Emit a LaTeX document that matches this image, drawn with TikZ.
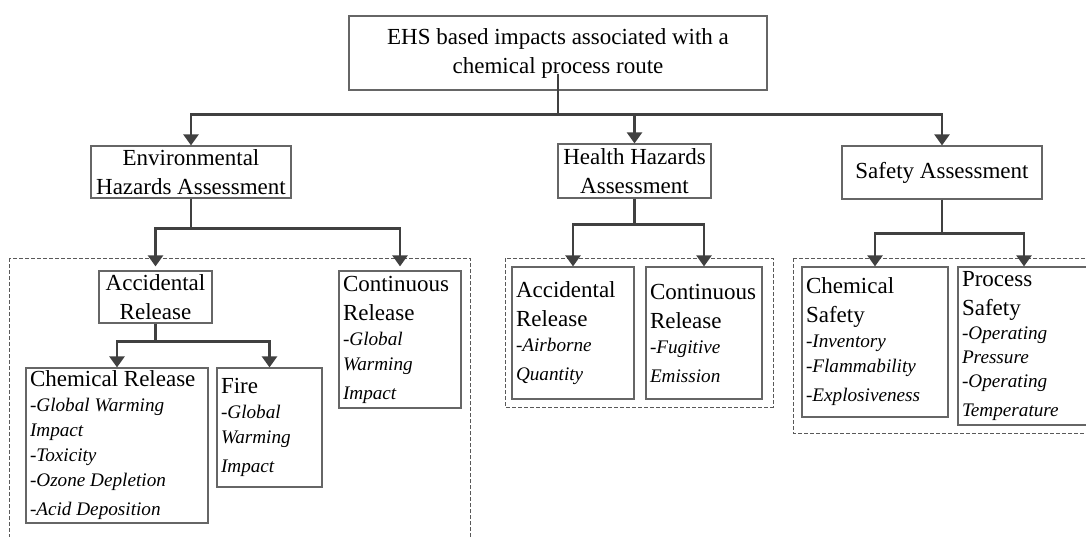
\documentclass[tikz,border=0pt]{standalone}
\usepackage{fontspec}
\setmainfont{Liberation Serif}
\usetikzlibrary{arrows.meta, positioning, calc}
\definecolor{linkgray}{HTML}{404040}
\definecolor{framegray}{HTML}{666666}
\newcommand{\boxtxt}{\fontsize{11.5}{14.5}\selectfont}
\newcommand{\subtxt}{\fontsize{9.6}{12.5}\selectfont\itshape}

\begin{document}
\begin{tikzpicture}[x=0.5pt, y=-0.5pt,
  head/.style={rectangle, draw=framegray, line width=0.6pt, inner xsep=2pt, inner ysep=0pt, align=center, font=\boxtxt},
  leaf/.style={head, align=flush left},
  group/.style={draw=black!65, line width=0.5pt, dash pattern=on 2pt off 1pt},
  arrow/.style={-{Triangle[length=5.5pt, width=7.5pt]}, draw=linkgray, line width=1.2pt}
]
  \useasboundingbox (0,0) rectangle (1086,536);

  % Groups
  \draw[group] (9,258) rectangle (470,560);
  \draw[group] (505,258) rectangle (773,407);
  \draw[group] (793,258) rectangle (1100,433);

  % Root and branches
  \node[head, minimum width=209pt, minimum height=37pt] (ehs) at (558,53) {EHS based impacts associated with a\\chemical process route};
  \node[head, minimum width=100pt, minimum height=26pt] (env) at (191,172) {Environmental\\Hazards Assessment};
  \node[head, minimum width=76.5pt, minimum height=27pt] (health) at (634.5,171) {Health Hazards\\Assessment};
  \node[head, minimum width=100pt, minimum height=26.5pt] (safety) at (942,172.5) {Safety Assessment};

  % Environmental
  \node[head, minimum width=56.5pt, minimum height=26pt] (envacc) at (155.5,297) {Accidental\\Release};
  \node[leaf, text width=57pt, minimum height=68.5pt] (envcont) at (400,339.5) {Continuous\\Release\par\subtxt -Global\\Warming\\Impact};
  \node[leaf, text width=87pt, minimum height=77.5pt] (chemrel) at (117,445.5) {Chemical Release\par\subtxt -Global Warming\\Impact\\-Toxicity\\-Ozone Depletion\\-Acid Deposition};
  \node[leaf, text width=48.5pt, minimum height=59.5pt] (fire) at (269.5,427.5) {Fire\par\subtxt -Global\\Warming\\Impact};

  % Health
  \node[leaf, text width=57pt, minimum height=66pt] (hacc) at (573,333) {Accidental\\Release\par\subtxt -Airborne\\Quantity};
  \node[leaf, text width=54pt, minimum height=66pt] (hcont) at (704,333) {Continuous\\Release\par\subtxt -Fugitive\\Emission};

  % Safety
  \node[leaf, text width=69pt, minimum height=75pt] (chemsafe) at (875,342) {Chemical\\Safety\par\subtxt -Inventory\\-Flammability\\-Explosiveness};
  \node[leaf, text width=62pt, minimum height=79pt] (procsafe) at (1024,346) {Process\\Safety\par\subtxt\baselineskip=12pt -Operating\\Pressure\\-Operating\\Temperature};

  % Connectors
  \coordinate (hub) at ($(ehs.south)+(0,24)$);
  \draw[arrow] ([yshift=8.5pt]ehs.south) -- (hub) -| (env.north);
  \draw[arrow] (hub) -| (health.north);
  \draw[arrow] (hub) -| (safety.north);

  \draw[arrow, shorten >=2pt] (env.south) -- ++(0,30) -| (envacc.north);
  \draw[arrow, shorten >=2pt] (env.south) -- ++(0,30) -| (envcont.north);
  \draw[arrow] (envacc.south) -- ++(0,18) -| (chemrel.north);
  \draw[arrow] (envacc.south) -- ++(0,18) -| (fire.north);

  \draw[arrow] (health.south) -- ++(0,26) -| (hacc.north);
  \draw[arrow] (health.south) -- ++(0,26) -| (hcont.north);

  \draw[arrow] (safety.south) -- ++(0,34) -| (chemsafe.north);
  \draw[arrow] (safety.south) -- ++(0,34) -| (procsafe.north);
\end{tikzpicture}
\end{document}
